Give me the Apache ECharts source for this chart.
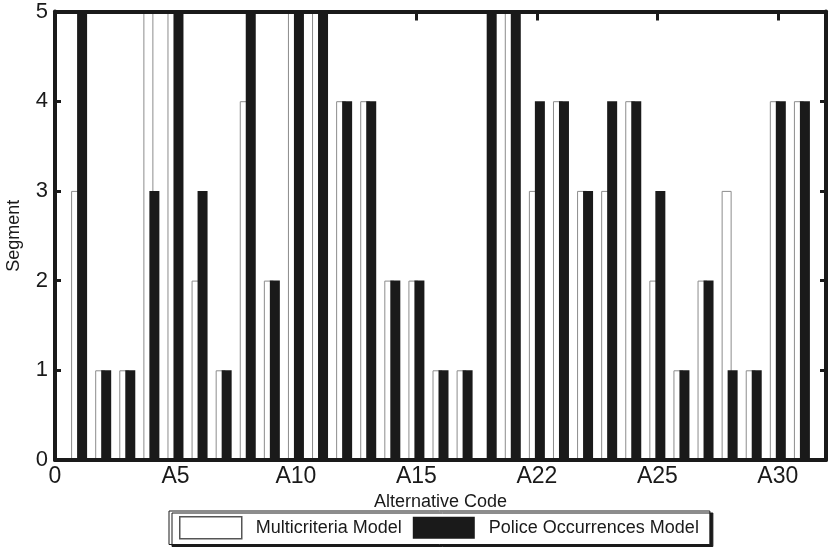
<!DOCTYPE html>
<html>
<head>
<meta charset="utf-8">
<script src="https://cdn.jsdelivr.net/npm/echarts@6/dist/echarts.min.js"></script>
<style>
html,body{margin:0;padding:0;background:#fff;}
#chart{width:832px;height:547px;}
</style>
</head>
<body>
<div id="chart"></div>
<script>
// Alternatives A1..A31 (axis spans 0..32)
const alternatives = ['A1','A2','A3','A4','A5','A6','A7','A8','A9','A10','A11','A12','A13','A14','A15','A16','A17','A18','A19','A20','A21','A22','A23','A24','A25','A26','A27','A28','A29','A30','A31'];
const multicriteria = [3,1,1,5,5,2,1,4,2,5,5,4,4,2,2,1,1,0,5,3,4,3,3,4,2,1,2,3,1,4,4];
const police        = [5,1,1,3,5,3,1,5,2,5,5,4,4,2,2,1,1,5,5,4,4,3,4,4,3,1,2,1,1,4,4];
// tick positions on the 0..32 axis and their printed labels
const tickPositions = [0,5,10,15,20,25,30];
const tickLabels    = ['0','A5','A10','A15','A22','A25','A30'];

const categories = [''].concat(alternatives, ['']);
const whiteData = [null].concat(multicriteria, [null]);
const blackData = [null].concat(police, [null]);

const FONT = 'Liberation Sans, Arial, sans-serif';
const INK = '#1a1a1a';

const chart = echarts.init(document.getElementById('chart'), null, {renderer:'canvas'});
const xBase = {
  type: 'category',
  data: categories,
  boundaryGap: false,
  z: 10,
  axisLine: {show: true, onZero: false, lineStyle: {color: INK, width: 4}},
  splitLine: {show: false}
};
const yBase = {
  type: 'value',
  min: 0, max: 5, interval: 1,
  z: 10,
  axisLine: {show: true, onZero: false, lineStyle: {color: INK, width: 4}},
  splitLine: {show: false}
};
chart.setOption({
  animation: false,
  backgroundColor: '#fff',
  grid: {left: 55, right: 6, top: 11.5, bottom: 87, containLabel: false, outerBoundsMode: 'none'},
  legend: {
    left: 169, top: 511,
    orient: 'horizontal',
    padding: [5, 11, 5, 10],
    itemGap: 11,
    itemWidth: 62, itemHeight: 22,
    backgroundColor: '#fff',
    borderColor: INK, borderWidth: 1, borderRadius: 0,
    shadowColor: INK, shadowBlur: 0, shadowOffsetX: 3, shadowOffsetY: 2,
    textStyle: {fontFamily: FONT, fontSize: 18, color: INK, padding: [0,0,0,9]},
    data: [
      {name: 'Multicriteria Model', icon: 'rect', itemStyle: {color: '#fff', borderColor: '#555', borderWidth: 1.5}},
      {name: 'Police Occurrences Model', icon: 'rect', itemStyle: {color: INK}}
    ]
  },
  xAxis: [
    Object.assign({}, xBase, {
      position: 'bottom',
      name: 'Alternative Code', nameLocation: 'middle', nameGap: 28,
      nameTextStyle: {fontFamily: FONT, fontSize: 18, color: INK},
      axisTick: {show: false},
      axisLabel: {
        show: true, fontFamily: FONT, fontSize: 23, color: INK, margin: 5,
        interval: (i) => tickPositions.indexOf(i) >= 0,
        formatter: (v, i) => { const k = tickPositions.indexOf(i); return k >= 0 ? tickLabels[k] : ''; }
      }
    }),
    Object.assign({}, xBase, {
      position: 'top',
      axisTick: {show: true, inside: true, length: 9, lineStyle: {color: INK, width: 3},
                 interval: (i) => tickPositions.indexOf(i) >= 0},
      axisLabel: {show: false}
    })
  ],
  yAxis: [
    Object.assign({}, yBase, {
      position: 'left',
      name: 'Segment', nameLocation: 'middle', nameGap: 32, nameRotate: 90,
      nameTextStyle: {fontFamily: FONT, fontSize: 18, color: INK},
      axisTick: {show: true, inside: true, length: 6, lineStyle: {color: INK, width: 3}},
      axisLabel: {fontFamily: FONT, fontSize: 22, color: INK, margin: 7}
    }),
    Object.assign({}, yBase, {
      position: 'right',
      axisTick: {show: true, inside: true, length: 6, lineStyle: {color: INK, width: 3}},
      axisLabel: {show: false}
    })
  ],
  series: [
    {
      name: 'Multicriteria Model', type: 'bar', xAxisIndex: 0, yAxisIndex: 0,
      data: whiteData, barWidth: 10, barGap: '-40%',
      itemStyle: {color: '#fff', borderColor: '#8c8c8c', borderWidth: 1}
    },
    {
      name: 'Police Occurrences Model', type: 'bar', xAxisIndex: 0, yAxisIndex: 0,
      data: blackData, barWidth: 10, barGap: '-40%',
      itemStyle: {color: INK}
    }
  ]
});
</script>
</body>
</html>
